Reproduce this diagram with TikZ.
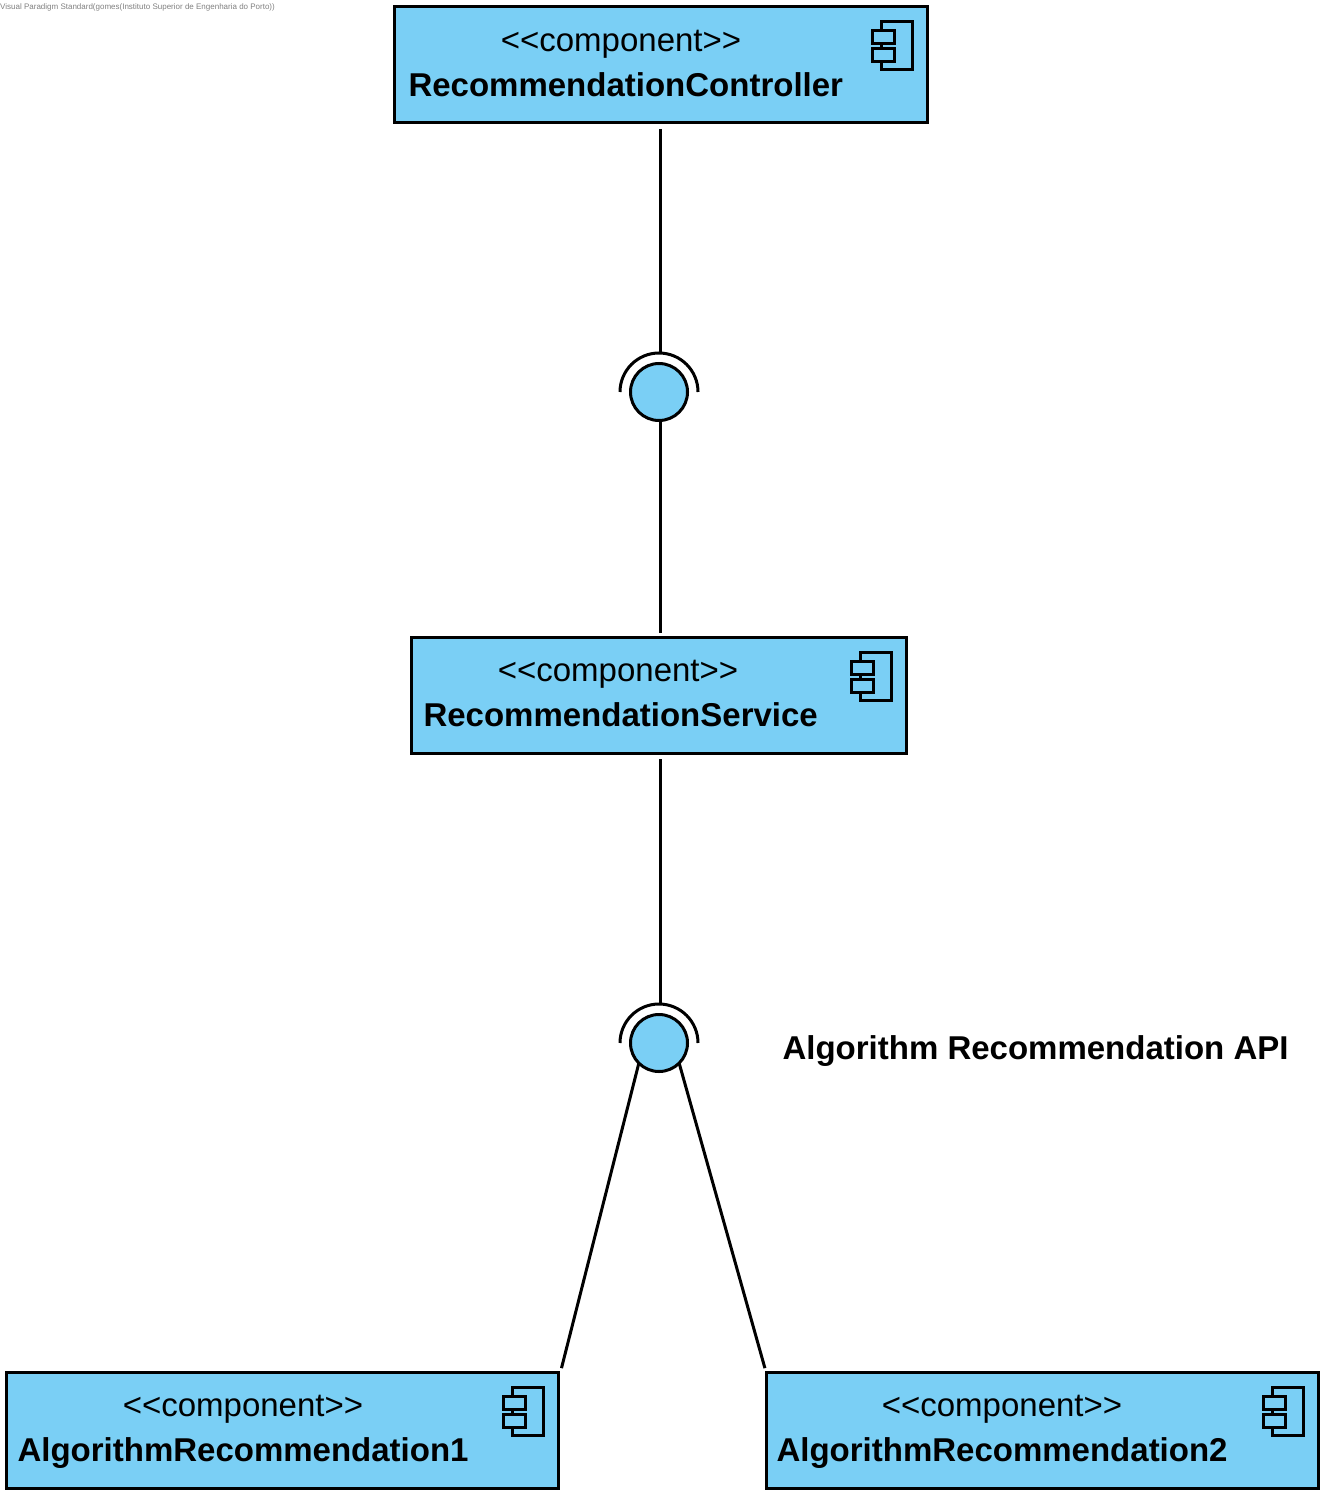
\documentclass[tikz,border=0pt]{standalone}
\usepackage{fontspec}
\setmainfont{Liberation Sans}
\definecolor{umlblue}{HTML}{7ACFF5}
\usetikzlibrary{positioning}

\begin{document}
\begin{tikzpicture}[x=1pt, y=-1pt,
        comp/.style={draw=black, fill=umlblue, line width=3pt, inner sep=0pt, outer sep=0pt,
                     minimum height=116pt},
        iface/.style={circle, draw=black, fill=umlblue, line width=3pt, inner sep=0pt, outer sep=0pt,
                      minimum size=57pt},
        stereo/.style={anchor=base, font=\fontsize{33}{38}\selectfont},
        compname/.style={anchor=base west, font=\fontsize{33}{38}\selectfont\bfseries},
        conn/.style={black, line width=3pt},
        socket/.style={black, line width=3pt},
        iconbox/.style={draw=black, fill=umlblue, line width=3pt}
      ]
        \useasboundingbox (0,0) rectangle (1332,1503);

        % components
        \node[comp, minimum width=533pt] (ctrl) at (660.5,65) {};
        \node[comp, minimum width=495pt] (svc) at (659,695) {};
        \node[comp, minimum width=552pt] (algoA) at (282.5,1430) {};
        \node[comp, minimum width=552pt] (algoB) at (1042,1430) {};

        \node[stereo] (ctrlst) at (621,52) {<{}<component>{}>};
        \node[compname] (ctrlnm) at (405,97) {RecommendationController};
        \node[stereo] (svcst) at (618,681) {<{}<component>{}>};
        \node[compname] (svcnm) at (420,726) {RecommendationService};
        \node[stereo] (algoAst) at (243,1416) {<{}<component>{}>};
        \node[compname] (algoAnm) at (14,1461) {AlgorithmRecommendation1};
        \node[stereo] (algoBst) at (1002,1416) {<{}<component>{}>};
        \node[compname] (algoBnm) at (773,1461) {AlgorithmRecommendation2};

        % component icons
        \foreach \n in {ctrl,svc,algoA,algoB} {
          \draw[iconbox] ([shift={(-46,15)}]\n.north east) rectangle ([shift={(-15,63)}]\n.north east);
          \draw[iconbox] ([shift={(-55,24)}]\n.north east) rectangle ([shift={(-33,37)}]\n.north east);
          \draw[iconbox] ([shift={(-55,42)}]\n.north east) rectangle ([shift={(-33,55)}]\n.north east);
        }

        % interfaces
        \node[iface] (ifA) at (659,392) {};
        \node[iface] (ifB) at (659,1043) {};
        \draw[socket] ([xshift=-39pt]ifA.center) arc[start angle=180, end angle=0, radius=39pt];
        \draw[socket] ([xshift=-39pt]ifB.center) arc[start angle=180, end angle=0, radius=39pt];

        % connectors
        \draw[conn, shorten <=6pt, shorten >=11pt] (ctrl.south) -- (ctrl.south |- ifA.north);
        \draw[conn, shorten >=4pt] (ctrl.south |- ifA.south) -- (svc.north -| ctrl.south);
        \draw[conn, shorten <=6pt, shorten >=11pt] (ctrl.south |- svc.south) -- (ctrl.south |- ifB.north);
        \draw[conn, shorten >=4pt] (ifB.-135) -- ([xshift=2pt]algoA.north east);
        \draw[conn, shorten >=4pt] (ifB.-45) -- (algoB.north west);

        \node[anchor=base west, font=\fontsize{33}{38}\selectfont\bfseries] (apilbl) at (779,1059) {Algorithm Recommendation API};
        \node[anchor=base west, inner sep=0pt, text=gray, font=\fontsize{8}{10}\selectfont] (wmark) at (0,10) {Visual Paradigm Standard(gomes(Instituto Superior de Engenharia do Porto))};
      \end{tikzpicture}
\end{document}
